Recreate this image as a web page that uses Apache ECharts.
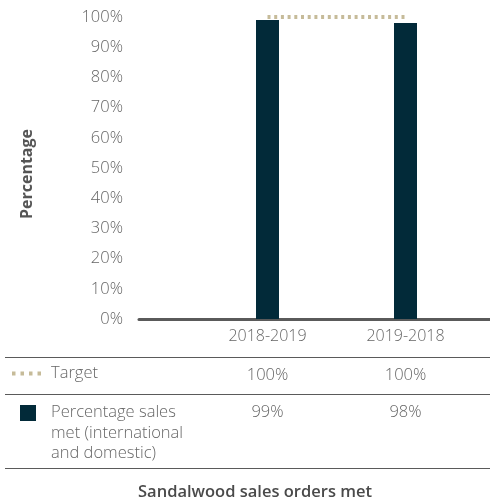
<!DOCTYPE html>
<html>
<head>
<meta charset="utf-8">
<script src="https://cdn.jsdelivr.net/npm/echarts@6/dist/echarts.min.js"></script>
<style>
  html, body { margin: 0; padding: 0; background: #fff; }
  #chart { width: 490px; height: 499px; }
</style>
</head>
<body>
<div id="chart"></div>
<script>
// Sandalwood sales orders met, by year
const categories = ['2018-2019', '2019-2018'];
const targetValues = [100, 100];
const salesMetValues = [99, 98];
const yTicks = [0, 10, 20, 30, 40, 50, 60, 70, 80, 90, 100];

const targetLabel = 'Target';
const salesMetLabel = ['Percentage sales', 'met (international', 'and domestic)'];
const axisTitle = 'Percentage';
const chartTitle = 'Sandalwood sales orders met';

const FONT = '"Open Sans", Lato, sans-serif';
const TEXT_GREY = '#666666';
const BAR_COLOR = '#022a39';
const TARGET_COLOR = '#c6bb99';
const RULE_COLOR = '#5a5a5a';

const chart = echarts.init(document.getElementById('chart'), null, { renderer: 'canvas' });

const option = {
  animation: false,
  backgroundColor: '#ffffff',
  grid: [
    { left: 198.5, right: 15.5, top: 17, bottom: 180 },
    // baseline grid: wider span so the zero rule reaches the page edge
    { left: 139, right: 0, top: 17, bottom: 180 }
  ],
  xAxis: [
    {
      type: 'category',
      gridIndex: 0,
      data: categories,
      boundaryGap: true,
      axisLine: { show: false },
      axisTick: { show: false },
      axisLabel: { color: TEXT_GREY, fontFamily: FONT, fontSize: 16, fontWeight: 300, margin: 9 }
    },
    {
      type: 'value',
      gridIndex: 1,
      min: 0, max: 1,
      axisLine: { show: true, lineStyle: { color: RULE_COLOR, width: 3 } },
      axisTick: { show: false },
      axisLabel: { show: false },
      splitLine: { show: false }
    }
  ],
  yAxis: [
    {
      type: 'value',
      gridIndex: 0,
      min: yTicks[0],
      max: yTicks[yTicks.length - 1],
      interval: yTicks[1] - yTicks[0],
      axisLine: { show: false },
      axisTick: { show: false },
      splitLine: { show: false },
      axisLabel: {
        color: TEXT_GREY, fontFamily: FONT, fontSize: 16.5, fontWeight: 300, margin: 75.5,
        formatter: v => v + '%'
      }
    },
    {
      type: 'value',
      gridIndex: 1,
      show: false,
      min: 0, max: 1
    }
  ],
  series: [
    {
      name: 'Percentage sales met',
      type: 'bar',
      xAxisIndex: 0, yAxisIndex: 0,
      data: salesMetValues,
      barWidth: 23,
      itemStyle: { color: BAR_COLOR },
      z: 2
    },
    {
      name: targetLabel,
      type: 'line',
      xAxisIndex: 0, yAxisIndex: 0,
      data: targetValues,
      symbol: 'none',
      lineStyle: { color: TARGET_COLOR, width: 4, type: [3, 3.7], cap: 'butt' },
      z: 3
    }
  ]
};

chart.setOption(option);

// data table beneath the chart, columns aligned with the category centres
const colX = categories.map((c, i) => chart.convertToPixel({ xAxisIndex: 0 }, i));
const textStyle = (extra) => Object.assign({
  fill: TEXT_GREY, fontFamily: FONT, fontSize: 16.5, fontWeight: 300, textVerticalAlign: 'middle'
}, extra);

const rule = (y) => ({
  type: 'line',
  shape: { x1: 5, y1: y, x2: 490, y2: y },
  style: { stroke: RULE_COLOR, lineWidth: 1.2 }
});

const elements = [
  rule(357.5),
  rule(394.5),
  rule(468.5),
  {
    type: 'line',
    shape: { x1: 12, y1: 373.5, x2: 41, y2: 373.5 },
    style: { stroke: TARGET_COLOR, lineWidth: 4, lineDash: [3.5, 5] }
  },
  { type: 'text', x: 51, y: 373, style: textStyle({ text: targetLabel, textAlign: 'left' }) },
  {
    type: 'rect',
    shape: { x: 20, y: 405, width: 16, height: 16 },
    style: { fill: BAR_COLOR }
  },
  {
    type: 'text', x: 255, y: 492,
    style: textStyle({ text: chartTitle, textAlign: 'center', fill: '#4a4a4a', fontWeight: 600, fontSize: 16.5 })
  },
  {
    type: 'text', x: 27, y: 174, rotation: Math.PI / 2,
    style: textStyle({ text: axisTitle, textAlign: 'center', fill: '#555555', fontWeight: 'bold', fontSize: 16 })
  }
];

// series description wraps over three lines
salesMetLabel.forEach((line, i) => {
  elements.push({
    type: 'text', x: 51, y: 412 + i * 20.8,
    style: textStyle({ text: line, textAlign: 'left' })
  });
});

categories.forEach((c, i) => {
  elements.push({
    type: 'text', x: colX[i], y: 375,
    style: textStyle({ text: targetValues[i] + '%', textAlign: 'center' })
  });
  elements.push({
    type: 'text', x: colX[i], y: 412,
    style: textStyle({ text: salesMetValues[i] + '%', textAlign: 'center' })
  });
});

chart.setOption({ graphic: { elements: elements } });
</script>
</body>
</html>
